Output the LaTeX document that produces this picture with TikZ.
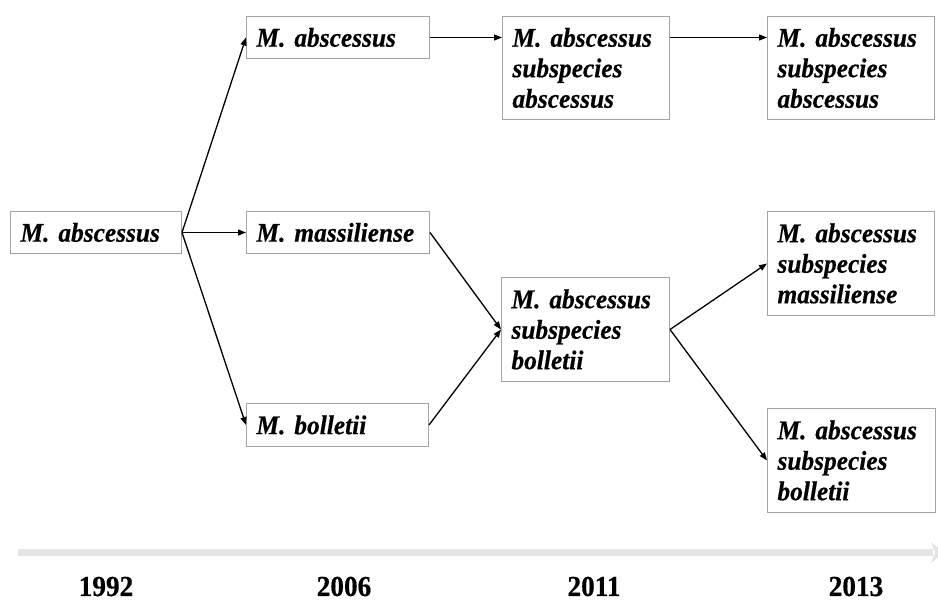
\documentclass[tikz,border=0pt]{standalone}
\usepackage{fontspec}
\setmainfont{Liberation Serif}[FakeStretch=0.94, BoldFeatures={FakeBold=0.5}, BoldItalicFeatures={FakeBold=0.5}]
\usetikzlibrary{arrows.meta}
\definecolor{boxgray}{RGB}{165,165,165}
\definecolor{bargray}{RGB}{228,228,228}
\begin{document}
\begin{tikzpicture}[x=1pt,y=-1pt,
  box/.style={draw=boxgray, line width=1pt, anchor=north west, inner xsep=10pt, inner ysep=0pt,
    align=left, font=\fontsize{27}{30.5}\selectfont\bfseries\itshape},
  link/.style={line width=1.3pt, -{Triangle[length=8pt,width=6pt]}},
  yearlabel/.style={font=\fontsize{29}{30}\selectfont\bfseries, anchor=base, inner sep=0pt}]
\useasboundingbox (0,0) rectangle (938,601);
% timeline bar
\fill[bargray] (18,549) rectangle (933,556);
\fill[bargray] (931,542) -- (944,552.5) -- (931,563) -- (935,552.5) -- cycle;
% boxes
\node[box, text width=151pt, minimum height=42pt] (a) at (10,211) {M. abscessus};
\node[box, text width=163pt, minimum height=42pt] (b) at (246,16) {M. abscessus};
\node[box, text width=163pt, minimum height=42pt] (c) at (246,211) {M. massiliense};
\node[box, text width=162pt, minimum height=43pt] (d) at (246,403) {M. bolletii};
\node[box, text width=147pt, minimum height=103pt] (e) at (502,16) {M. abscessus\\subspecies\\abscessus};
\node[box, text width=147pt, minimum height=103pt] (f) at (767,16) {M. abscessus\\subspecies\\abscessus};
\node[box, text width=147pt, minimum height=104pt] (g) at (767,211) {M. abscessus\\subspecies\\massiliense};
\node[box, text width=148pt, minimum height=104pt] (h) at (501,277) {M. abscessus\\subspecies\\bolletii};
\node[box, text width=148pt, minimum height=104pt] (i) at (767,408) {M. abscessus\\subspecies\\bolletii};
% connectors
\draw[link] (a.east) -- (b.west);
\draw[link] (a.east) -- (c.west);
\draw[link] (a.east) -- (d.west);
\draw[link] (b.east) -- (b.east -| e.west);
\draw[link] (b.east -| e.east) -- (b.east -| f.west);
\draw[link] (c.east) -- (h.west);
\draw[link] (d.east) -- (h.west);
\draw[link] (h.east) -- (g.west);
\draw[link] (h.east) -- (i.west);
% years
\node[yearlabel] (y1) at (106,596) {1992};
\node[yearlabel] (y2) at (344,596) {2006};
\node[yearlabel] (y3) at (594,596) {2011};
\node[yearlabel] (y4) at (856,596) {2013};
\end{tikzpicture}
\end{document}
